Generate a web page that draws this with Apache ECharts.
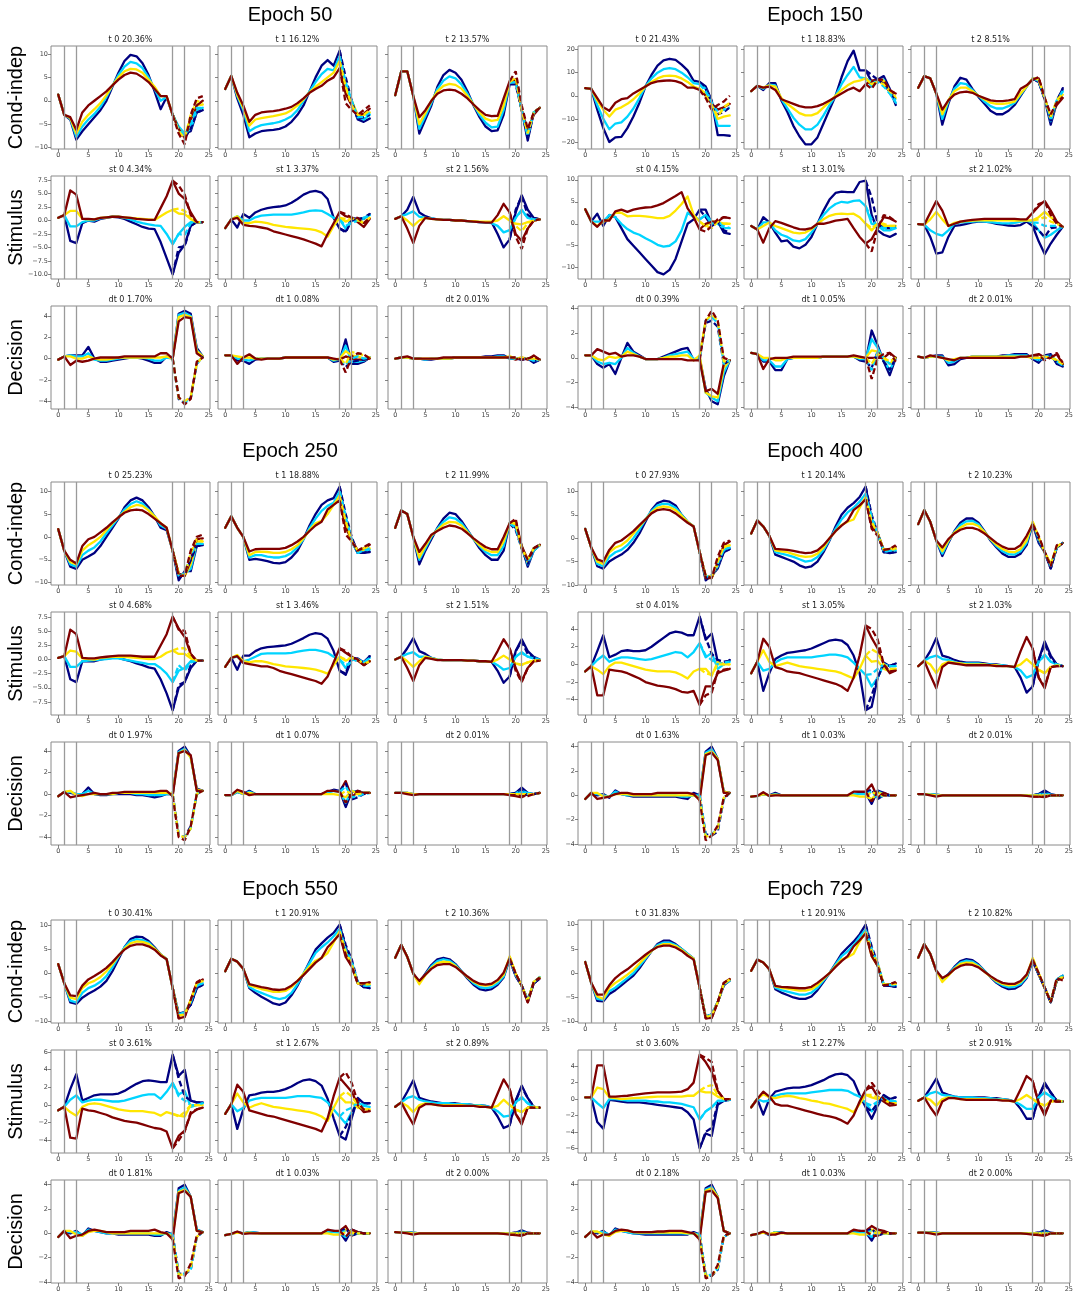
<!DOCTYPE html>
<html>
<head>
<meta charset="utf-8">
<script src="https://cdn.jsdelivr.net/npm/echarts@6/dist/echarts.min.js"></script>
<style>html,body{margin:0;padding:0;background:#fff}#chart{width:1080px;height:1297px}</style>
</head>
<body>
<div id="chart"></div>
<script>
// Task event times, drawn as grey vertical rules in every panel
const eventTimes = [1, 3, 19, 21];
const xTicks = [0, 5, 10, 15, 20, 25];
const rowNames = ['Cond-indep', 'Stimulus', 'Decision'];
const epochNames = ['Epoch 50', 'Epoch 150', 'Epoch 250', 'Epoch 400', 'Epoch 550', 'Epoch 729'];
// Condition colours (jet colormap at 0, 1/3, 2/3, 1)
const condColors = ['#000080', '#00d4ff', '#ffe600', '#800000'];

const titles_e50 = ['t 0 20.36%', 't 1 16.12%', 't 2 13.57%', 'st 0 4.34%', 'st 1 3.37%', 'st 2 1.56%', 'dt 0 1.70%', 'dt 1 0.08%', 'dt 2 0.01%'];
const titles_e150 = ['t 0 21.43%', 't 1 18.83%', 't 2 8.51%', 'st 0 4.15%', 'st 1 3.01%', 'st 2 1.02%', 'dt 0 0.39%', 'dt 1 0.05%', 'dt 2 0.01%'];
const titles_e250 = ['t 0 25.23%', 't 1 18.88%', 't 2 11.99%', 'st 0 4.68%', 'st 1 3.46%', 'st 2 1.51%', 'dt 0 1.97%', 'dt 1 0.07%', 'dt 2 0.01%'];
const titles_e400 = ['t 0 27.93%', 't 1 20.14%', 't 2 10.23%', 'st 0 4.01%', 'st 1 3.05%', 'st 2 1.03%', 'dt 0 1.63%', 'dt 1 0.03%', 'dt 2 0.01%'];
const titles_e550 = ['t 0 30.41%', 't 1 20.91%', 't 2 10.36%', 'st 0 3.61%', 'st 1 2.67%', 'st 2 0.89%', 'dt 0 1.81%', 'dt 1 0.03%', 'dt 2 0.00%'];
const titles_e729 = ['t 0 31.83%', 't 1 20.91%', 't 2 10.82%', 'st 0 3.60%', 'st 1 2.27%', 'st 2 0.91%', 'dt 0 2.18%', 'dt 1 0.03%', 'dt 2 0.00%'];

// y tick values per row (Cond-indep, Stimulus, Decision)
const yTicks_e50 = [[-10, -5, 0, 5, 10], [-10, -7.5, -5, -2.5, 0, 2.5, 5, 7.5], [-4, -2, 0, 2, 4]];
const yTicks_e150 = [[-20, -10, 0, 10, 20], [-10, -5, 0, 5, 10], [-4, -2, 0, 2, 4]];
const yTicks_e250 = [[-10, -5, 0, 5, 10], [-7.5, -5, -2.5, 0, 2.5, 5, 7.5], [-4, -2, 0, 2, 4]];
const yTicks_e400 = [[-10, -5, 0, 5, 10], [-4, -2, 0, 2, 4], [-4, -2, 0, 2, 4]];
const yTicks_e550 = [[-10, -5, 0, 5, 10], [-4, -2, 0, 2, 4, 6], [-4, -2, 0, 2, 4]];
const yTicks_e729 = [[-10, -5, 0, 5, 10], [-6, -4, -2, 0, 2, 4, 6], [-4, -2, 0, 2, 4]];

// Each panel: four conditions (navy, cyan, yellow, red), values at t = 0..24.
// *_d: the alternative-choice traces (dashed), values at t = 19..24.

// ---------- Epoch 50 ----------
const e50_t0 = [
  [1.3,-3,-4,-8.3,-6.5,-5,-3.5,-2,0,3,6,8.5,9.8,9.5,8,5.5,2,-1.8,0.8,-3,-6,-7,-6.5,-2.5,-2],
  [1.3,-3,-3.8,-7.7,-5.5,-4,-2.8,-1.3,0.8,3.2,5.5,7.3,8.3,8,7,5,2.5,0,0.8,-3,-5.5,-7,-6,-2,-1.5],
  [1.3,-3,-3.7,-7,-4.5,-3,-1.8,-0.5,1.2,3.3,5,6.3,6.8,6.7,6,4.5,3,1,1,-3,-6,-7.5,-4,-1,-0.8],
  [1.3,-3,-3.5,-6.2,-2.5,-1,0,1,2,3.3,4.5,5.5,6,5.8,5,4,2.5,1,1,-3,-6,-8,-4,-1,0]];
const e50_t0_d = [[-3,-6,-8,-6,-2.5,-2],[-3,-6,-7.5,-5,-1.5,-1.5],[-3,-6.5,-8,-3,0,-0.5],[-3,-7,-9.3,-3,0.5,1]];
const e50_t1 = [
  [2.5,5.3,0.5,-3,-7.8,-7,-6.5,-6.3,-6.2,-6,-5.5,-4.5,-3,-1,2,5,7.5,8.7,7.5,10.7,3,0,-4,-4.5,-3.8],
  [2.5,5.3,1,-2,-6.5,-5.7,-5.2,-5,-4.8,-4.5,-4,-3.3,-2,0,2,4,5.7,6.8,6.5,9.5,3,0,-3.5,-4,-3],
  [2.5,5.3,1.3,-1.5,-5.3,-4,-3.7,-3.5,-3.3,-3,-2.7,-2,-1,0.3,1.8,3,4,5,6,8.5,2,0,-3,-3,-2.5],
  [2.5,5.3,1.7,-1,-4.5,-3,-2.5,-2.3,-2.2,-2,-1.7,-1.3,-0.5,0.5,1.7,2.5,3.2,4.3,5,7,1.5,-1,-3,-2.8,-1.7]];
const e50_t1_d = [[10.7,5,0,-4,-3.5,-3],[9.5,4,0,-3.5,-3.5,-2.5],[8.5,3,-1,-3,-3,-2],[7,-0.5,-2,-3,-2,-1]];
const e50_t2 = [
  [1.2,6.3,6.3,1,-7,-4,-1,3,5.5,6.6,6,4.5,2,-1,-3.5,-5.5,-6.5,-6.3,-3,3.5,4.5,-2,-8.5,-2.5,-1.5],
  [1.2,6.3,6.3,1,-6,-3.3,-0.5,2.5,4.3,5.2,4.8,3.5,1.5,-0.8,-3,-4.7,-5.7,-5.5,-2,3.8,4.5,-2,-7.5,-2.5,-1.5],
  [1.2,6.3,6.3,1,-5,-2.6,0,2,3.2,3.6,3.4,2.6,1,-0.8,-2.5,-3.8,-4.3,-4.1,-1,4,4.5,-2,-7,-2.5,-1.5],
  [1.2,6.3,6.3,1,-3.5,-2,0,1.5,2.2,2.4,2.2,1.5,0.5,-0.8,-2,-3,-3.3,-3.2,0.5,4.2,4.5,-2,-6.5,-3,-1.5]];
const e50_t2_d = [[3.5,3.5,-2,-8,-2.5,-1.5],[3.8,4,-2,-7.5,-2.5,-1.5],[4,5,-2,-7,-2.5,-1.5],[4.2,6.3,-1,-6,-2.5,-1.5]];
const e50_st0 = [
  [0.5,1,-3.8,-4.2,-0.5,0,-0.2,0.3,0.5,0.7,0.6,0.3,-0.2,-0.7,-1.2,-1.5,-1.6,-4,-7,-10,-6,-4.5,-1,-0.3,-0.3],
  [0.5,1,-1.1,-1.1,-0.3,0,0,0.4,0.6,0.7,0.7,0.5,0.2,-0.2,-0.5,-0.7,-0.9,-1,-2.5,-4.4,-2.5,-1.2,-0.3,-0.3,-0.3],
  [0.5,1,1.8,1.8,0.3,0.2,0.2,0.5,0.6,0.7,0.7,0.6,0.5,0.4,0.3,0.2,0.1,0.8,1.5,2,1.3,1.2,0.3,-0.3,-0.3],
  [0.5,1,5.6,4.8,0.3,0.3,0.2,0.5,0.6,0.7,0.7,0.6,0.5,0.3,0.2,0.1,0.1,2.3,4.5,7.4,5,4,1.5,-0.3,-0.3]];
const e50_st0_d = [[-10,-5,-4.8,-1,-0.3,-0.3],[-4.4,-2.5,-2.7,-0.5,-0.3,-0.3],[2,2.2,1.8,0.3,-0.3,-0.3],[7.4,6.5,4.8,1,-0.3,-0.3]];
const e50_st1 = [
  [-1.4,0.2,-1.3,1.2,0.5,1.5,2,2.3,2.5,2.6,2.8,3.3,4,4.8,5.3,5.5,5.2,4,0.5,-1.5,-2,0.5,0.3,0.3,1.2],
  [-1.4,0.2,0.8,0,0,0.6,0.9,1,1.1,1.1,1.1,1.1,1.3,1.5,1.8,1.9,1.8,1.2,0.5,0.2,-1.5,0,0,0.3,1],
  [-1.4,0.2,0.8,-0.5,-0.5,-0.2,-0.3,-0.5,-0.8,-1,-1.2,-1.3,-1.4,-1.5,-1.6,-1.8,-2.2,-3,-1,0.5,-0.2,0.3,0,-0.5,0.5],
  [-1.4,0.2,0.5,-0.8,-1,-1.1,-1.3,-1.5,-2,-2.3,-2.6,-2.9,-3.2,-3.5,-3.9,-4.3,-4.8,-2.5,-0.5,1.6,0.8,0.5,-0.3,-1.2,0.3]];
const e50_st1_d = [[-1.5,-2.2,0,0.3,0.5,1.2],[0.2,-1,-0.5,0,0.5,1],[0.5,0.3,0.5,0,-0.3,0.5],[1.6,1.2,0.5,0.5,-0.5,0.5]];
const e50_st2 = [
  [0.3,0.8,2,4.4,1.5,0.8,0.4,0.2,0.1,0.1,0,0,-0.1,-0.2,-0.3,-0.3,-0.3,-2.5,-5,-3.5,1.5,4.7,2,0.5,0.2],
  [0.3,0.8,1.2,1.7,0.7,0.5,0.4,0.2,0.1,0.1,0,0,-0.1,-0.2,-0.3,-0.4,-0.5,-1,-2.2,-1.8,0.5,2,0.5,0.2,0.2],
  [0.3,0.8,0,-1,0,0.5,0.3,0.2,0.1,0.1,0,0,-0.1,-0.1,-0.2,-0.2,-0.2,0,0.8,0,-0.6,-0.7,-0.3,0,0.2],
  [0.3,0.8,-1.5,-4.2,-1,0.5,0.3,0.2,0.1,0.1,0,0,-0.1,-0.2,-0.3,-0.4,-0.4,1,3.1,1.5,-2.5,-3.8,-1.5,0,0.2]];
const e50_st2_d = [[-3.5,2,4.5,1,0.5,0.2],[-1.8,0.5,1.8,0.5,0.2,0.2],[0,-1,-2,-0.5,0,0.2],[1.5,-3,-5.3,-1.5,0,0.2]];
const e50_dt0 = [
  [-0.1,0.2,0.3,0.3,0.3,1.1,0,-0.3,-0.3,-0.2,-0.1,0,0.1,0.1,0,-0.2,-0.4,-0.4,0.2,0,4.2,4.5,4.2,1,0.2],
  [-0.1,0.2,0.3,0.2,0.2,0.5,-0.1,-0.2,-0.2,-0.1,0,0.1,0.1,0.1,0.1,0,-0.2,-0.2,0.1,0,4.1,4.3,4,0.8,0.2],
  [-0.1,0.2,0.2,0,0,0.2,0,-0.1,-0.1,0,0.1,0.1,0.1,0.1,0.1,0.1,0.1,0.1,0.2,0,3.9,4.1,3.9,0.7,0.2],
  [-0.1,0.2,-0.6,-0.2,-0.3,-0.2,0,0.1,0.1,0.1,0.1,0.2,0.2,0.2,0.2,0.2,0.2,0.5,0.5,0,3.5,3.9,3.8,0.5,0.1]];
const e50_dt0_d = [[0,-3.8,-4.2,-3.7,-0.5,0.2],[0,-3.7,-4.1,-3.7,-0.5,0.2],[0,-3.7,-4,-3.6,-0.5,0.2],[0,-3.6,-4.3,-3.8,-0.3,0.1]];
const e50_dt1 = [
  [0.3,0.3,-0.2,-0.2,-0.5,-0.1,0,0,0,0,0.1,0.1,0.1,0.1,0.1,0.1,0.1,0.1,-0.3,-0.2,1.8,-0.5,-0.5,-0.3,0.1],
  [0.3,0.3,0,-0.1,-0.2,0,0,0,0,0,0.1,0.1,0.1,0.1,0.1,0.1,0.1,0.1,-0.2,-0.1,1.2,-0.3,-0.3,-0.2,0.1],
  [0.3,0.3,0.2,0.1,0.1,0,0,0,0,0,0.1,0.1,0.1,0.1,0.1,0.1,0.1,0.1,-0.1,0,0.7,0.3,0.2,0,0.1],
  [0.3,0.3,-0.5,0.1,0.4,0,-0.1,0,0,0,0.1,0.1,0.1,0.1,0.1,0.1,0.1,0.1,0,-0.1,0.2,0,-0.1,-0.1,0]];
const e50_dt1_d = [[-0.2,-0.8,-0.3,-0.2,-0.1,0.1],[-0.1,-0.6,0,0.2,0,0.1],[0,-0.5,0.6,0.5,0.3,0.1],[-0.1,-1.3,0.2,0.5,0.4,0]];
const e50_dt2 = [
  [0,0.1,0.1,0,0,-0.1,-0.1,0,0,0,0.1,0.1,0.1,0.1,0.1,0.2,0.2,0.3,0.3,0,0,-0.1,0,-0.4,-0.1],
  [0,0.1,0.1,0,0,-0.1,0,0,0,0,0.1,0.1,0.1,0.1,0.1,0.1,0.1,0.2,0.2,0,0,0,0,-0.2,-0.1],
  [0,0.1,0.1,0,0,0,0,0,0,0,0.1,0.1,0.1,0.1,0.1,0.1,0.1,0.1,0.1,0.2,0,0,0,0,-0.1],
  [0,0.1,0.2,0,0,0,0,0,0.1,0.1,0.1,0.1,0.1,0.1,0.1,0.1,0.1,0.1,0.1,0.1,-0.1,0.1,-0.1,0.3,-0.1]];
const e50_dt2_d = [[0,0.1,-0.1,0,-0.3,-0.1],[0,0,0,0,-0.2,-0.1],[0.2,0,0.1,0,0,-0.1],[0.1,0.1,-0.1,0,0.2,-0.1]];

// ---------- Epoch 150 ----------
const e150_t0 = [
  [3.3,3,-6,-14,-20,-18,-17.8,-14,-9,-3,4,9,13,15.3,16,15.5,13.5,11,6.5,6,4,-2,-17,-17,-17.3],
  [3.3,3,-4,-10,-14.5,-12,-11.5,-9,-5.5,-1,4,7.5,10,11.5,12,11.5,10,8,5.5,5,3,-3,-13,-13,-13],
  [3.3,3,-2,-6,-9,-6,-5,-3.5,-1.5,1,4,6,7.5,8.5,8.7,8.5,7.5,6,4,3,1,-3.5,-10,-9,-8.5],
  [3.3,3,-1,-5,-6.5,-3,-1.5,-1,1,2.5,4,5.5,6.2,6.5,6.7,6.3,5.5,3.5,3.5,2.5,0,-3.5,-6,-5,-3.5]];
const e150_t0_d = [[6,3,-3,-8,-7,-5],[5,2,-3,-7,-6,-5],[3,0,-4,-9,-5,-3],[2.5,-1,-6,-4,-2.5,0]];
const e150_t1 = [
  [2,4.3,2.5,5.5,5.5,-2,-7,-13,-17.5,-21,-21,-18,-12,-6,0,8,15,19.5,11,11,6,7,8.5,3,-4],
  [2,4.3,3,4.8,4.5,-1.5,-5.5,-9.5,-12.5,-14.5,-14.5,-12.5,-8.5,-4,0,5,9,12.5,8,7.5,4,6,7,1,-3],
  [2,4.3,3.5,4.5,4,-1,-3.5,-5.5,-7.5,-8.5,-8.5,-7.5,-5,-2.5,0,2.5,4.5,6,6.5,7.5,5,6.5,6.5,2,-1],
  [2,4.3,3.5,4,2.5,-1.5,-2.5,-3.5,-4.5,-5,-5,-4.5,-3.5,-2,-0.5,1,2.5,3.5,2,5,6.5,7,5,2,1]];
const e150_t1_d = [[11,9,7,5,2,-2],[7.5,6,6,4,1,-2],[7.5,5,6,5,2,-0.5],[5,3,7,7,2.5,1]];
const e150_t2 = [
  [3.5,8.5,7.5,1,-12.5,-3.5,4,7.8,7,3,-0.5,-3.5,-6.5,-8,-8,-6.5,-4,0,4,7.5,6,-1.5,-12.5,-3,3.3],
  [3.5,8.5,7.5,1,-10,-2.5,3,5.5,5,2.5,0,-2.5,-4.5,-5.5,-5.5,-4.5,-3,0.5,4,7.5,6.5,-1,-11,-3,2],
  [3.5,8.5,7.5,1,-8,-2,2,3.5,3.5,2,0,-1.5,-3,-3.5,-3.5,-3.2,-2.5,1,4,7.5,7,-1,-10,-3,0.5],
  [3.5,8.5,7.5,1,-6,-2,0.5,1.5,1.8,1.3,0,-1,-2,-2.3,-2.3,-2,-1.5,3,4.5,7,7.5,-1,-9,-4,-1]];
const e150_t2_d = [[7.5,6,-1.5,-11,-2,3],[7.5,6.5,-1,-10,-2,2],[7.5,7,-1,-9,-2,1],[7,8,-1,-8,-3,-0.5]];
const e150_st0 = [
  [3.3,0.5,2.3,-0.5,2,1.5,-1,-3.5,-5,-6.5,-8,-9.5,-11,-11.5,-10.5,-8,-4,0,1,3.2,3.2,0,0.5,-2,-2.3],
  [3.3,0.5,0.5,0.5,2,1.5,0,-1.2,-2,-2.5,-3.3,-4,-4.8,-5.2,-5,-4,-1.5,2.5,1.5,1,2,0.5,0,-1,-1],
  [3.3,0.5,-0.5,0.5,1,2.5,2.5,1.7,1.8,1.8,1.7,1.5,1.3,1.3,1.8,3,4.5,6.2,2,0.5,-0.5,0.5,0.5,0,0],
  [3.3,0.5,-0.7,0.8,0.7,2.8,3.2,2.7,3.2,3.5,3.7,3.8,4.2,4.7,5.5,6.3,7.2,3.5,1.5,-1.3,0,0.5,0.5,1.5,1.3]];
const e150_st0_d = [[3.2,1.5,-0.5,0.5,-1.5,-2],[1,2,0,0.5,-0.5,-1],[0.5,-0.5,-1,0.5,0,0],[-1.3,-1.8,-0.5,1,1.5,1.3]];
const e150_st1 = [
  [-0.5,-1.3,1.5,0.3,-2,-4,-3.8,-5.2,-5.6,-4.8,-3,0,3,5.5,7,7.3,7.2,7.2,9.5,9.8,2,-1.5,-2.5,-3,-2.3],
  [-0.5,-1.3,0.3,0.3,-1.5,-2.5,-3,-3.8,-4,-3.5,-2,0,2,3.5,4.5,5,4.8,5.2,5.3,4,0,-0.5,-1.5,-1.5,-1],
  [-0.5,-1.3,-0.5,0.3,-0.5,-1,-1.5,-2,-2.2,-2,-1.2,0,1,1.8,2.2,2.3,2.2,2.3,1.5,0,-1.5,0,-0.5,-0.5,-0.5],
  [-0.5,-1.3,-4.3,-1,0.6,0.2,-0.3,-0.8,-1.2,-1.3,-1,0,0,0.3,0.7,0.9,1.1,-1,-3,-4.5,-3.5,-1,1.5,1.2,0.5]];
const e150_st1_d = [[9.8,6,0,-1,-1,-0.5],[4,1,-0.5,-1,-1,-0.5],[0,-1,0,0,-0.5,-0.5],[-4.5,-6.3,-1,2,1.5,0.5]];
const e150_st2 = [
  [-0.1,-0.2,-3,-6.8,-6.5,-3,-0.5,-0.3,0,0.3,0.5,0.5,0.3,0,-0.2,-0.4,-0.5,-0.3,0.5,-0.5,-4,-6.9,-4.5,-2.5,-0.7],
  [-0.1,-0.2,-1.5,-2.3,-2.7,-1.5,0,0.3,0.4,0.5,0.6,0.5,0.4,0.2,0.1,0.1,0.2,0.5,0.7,0.3,-1.5,-3.2,-2.5,-1.5,-0.7],
  [-0.1,-0.2,1,2.7,1,-0.5,0.2,0.5,0.6,0.7,0.8,0.8,0.8,0.8,0.8,0.8,0.7,0.7,0.7,0.8,1.5,2.7,1.5,0.3,-0.7],
  [-0.1,-0.2,2.5,5.2,3,-0.5,0,0.5,0.7,0.9,1,1.1,1.1,1.1,1.1,1.1,1.1,1,1,2.5,4,5.2,3,0.5,-0.7]];
const e150_st2_d = [[-0.5,-1.5,-3,-1,-0.8,-0.7],[0.3,0.2,-0.5,-0.5,-0.5,-0.7],[0.8,1,1.5,0.5,0,-0.7],[2.5,4.5,5,2,0,-0.7]];
const e150_dt0 = [
  [0.2,0.2,-0.5,-0.8,-0.5,-1.3,0,1.2,0.5,0.2,-0.1,-0.1,-0.1,0.1,0.3,0.5,0.7,0.8,-0.2,0,-2.5,-3.5,-3.75,-1.5,-0.2],
  [0.2,0.2,-0.3,-0.5,-0.4,-0.5,0,0.8,0.4,0.1,-0.1,-0.1,-0.1,0,0.2,0.3,0.4,0.5,-0.1,0,-2.8,-3.2,-3.5,-1.2,-0.2],
  [0.2,0.2,-0.1,-0.2,0.1,0,0.1,0.5,0.3,0.1,-0.1,-0.1,-0.1,0,0.1,0.1,0.2,0.2,-0.2,0.2,-2.8,-3.1,-3.2,-0.8,-0.2],
  [0.2,0.2,0.7,0.5,0.3,0.4,0.1,0.2,0.2,0.1,-0.1,-0.1,-0.1,-0.1,-0.1,-0.1,-0.1,-0.2,-0.2,-0.2,-2.7,-2.5,-2.9,-0.5,-0.2]];
const e150_dt0_d = [[0,2.8,3,2.5,-0.5,-0.2],[0,3,3.3,2.8,-0.5,-0.2],[0.2,3,3.5,3,-0.3,-0.2],[-0.2,3,3.8,3,0,-0.2]];
const e150_dt1 = [
  [0.4,0.3,-0.3,-0.3,-1,-1,-0.1,0,0,0,0,0,0.1,0.1,0.1,0.1,0.1,0.1,-0.2,-0.3,2.2,1,-0.3,-1.4,0],
  [0.4,0.3,-0.2,-0.2,-0.7,-0.7,-0.1,0,0,0,0,0,0.1,0.1,0.1,0.1,0.1,0.1,-0.1,-0.1,1.5,0.8,-0.2,-1,0],
  [0.4,0.3,0,0,-0.2,-0.2,0,0,0,0,0,0,0.1,0.1,0.1,0.1,0.1,0.1,0,0,0.6,0.5,0,-0.5,0],
  [0.4,0.3,-0.9,-0.1,0,0,0,0.1,0.1,0.1,0.1,0.1,0.1,0.1,0.1,0.1,0.1,0.2,0.1,0,0,0,0,0.4,0]];
const e150_dt1_d = [[-0.3,-0.8,0.5,-0.3,-1,0],[-0.1,-1,0.5,0,-0.5,0],[0,-0.5,0.3,0,-0.3,0],[0,-1.7,0,0.3,0.4,-0.3]];
const e150_dt2 = [
  [0.1,0,0.1,0.2,0.2,-0.6,-0.5,-0.1,0,0.1,0.1,0.1,0.1,0.1,0.2,0.2,0.3,0.3,0.3,-0.1,-0.4,0.2,0.3,-0.5,-0.7],
  [0.1,0,0.1,0.1,0.1,-0.4,-0.3,0,0,0.1,0.1,0.1,0.1,0.1,0.1,0.2,0.2,0.2,0.2,0,-0.2,0.1,0.2,-0.3,-0.6],
  [0.1,0,0.1,0.1,0,-0.2,-0.1,0,0,0.1,0.1,0.1,0.1,0.1,0.1,0.1,0.1,0.1,0.1,0,0,0,0.1,-0.2,-0.5],
  [0.1,0,0.2,0.1,0,-0.1,-0.2,0,0,0,0,0,0,0,0,0,0,0.1,0.1,0.2,0.3,0,0,0.3,-0.5]];
const e150_dt2_d = [[-0.1,-0.3,0,0.2,-0.4,-0.7],[0,-0.2,0,0.1,-0.3,-0.6],[0,0,0.1,0,-0.2,-0.5],[0.2,0.2,-0.2,0,0.4,-0.4]];

// ---------- Epoch 250 ----------
const e250_t0 = [
  [1.7,-3,-6.5,-7,-5,-4.3,-3.5,-2,0,2,4,6.5,8,8.6,8,6.5,4.5,2,1.5,-3,-9.5,-7.5,-7.5,-2,-1.8],
  [1.7,-3,-6,-6.5,-4,-3,-2.3,-1,0.8,2.5,4.2,6,7.2,7.8,7.3,6,4.5,2.5,1.8,-3,-8.5,-8,-7,-1.5,-1.5],
  [1.7,-3,-5.5,-6,-3,-1.8,-1,0,1.5,3,4.3,5.5,6.5,7,6.8,5.8,4.5,3,2,-3,-8,-8.5,-6,-1,-1],
  [1.7,-3,-5,-5.8,-2,-0.5,0,1,2,3.2,4.3,5.3,5.8,6,5.8,5,4,3,2,-3,-8,-8.5,-5,-0.5,-0.3]];
const e250_t0_d = [[-3,-9,-8,-5,-2,-1.8],[-3,-8.5,-8,-4,-1.5,-1.5],[-3,-8,-8.5,-3.5,-0.5,-1],[-3,-8.5,-8.5,-3,0,0.5]];
const e250_t1 = [
  [2,4.5,2,0,-5,-4.8,-5,-5.3,-5.7,-5.8,-5.5,-4.5,-3,-0.5,2.5,5,7,8,8.5,11,3.5,-1,-3.5,-3.5,-3.3],
  [2,4.5,2,0,-4.5,-4,-4,-4.3,-4.5,-4.5,-4.2,-3.5,-2.3,-0.5,2,4,5.7,6.8,7.5,10,3,-1,-3.5,-3,-2.8],
  [2,4.5,2,0,-4,-3.3,-3.2,-3.3,-3.5,-3.5,-3.3,-2.7,-1.8,-0.3,1.5,3,3.5,5,7,9,2.5,-1,-3,-2.8,-2.5],
  [2,4.5,2,0,-3.2,-2.7,-2.6,-2.6,-2.6,-2.6,-2.4,-1.8,-1,0,1.3,2.5,3.3,6,7,8,2,-0.5,-3,-2.5,-1.7]];
const e250_t1_d = [[11,5,0,-3.5,-3.5,-3],[10,4.5,-0.5,-3.5,-3,-2.5],[9,3.5,-1,-3,-2.5,-2],[8,0.5,-1,-3,-2.2,-1.5]];
const e250_t2 = [
  [2,5.8,5,0,-6,-3,-0.5,2,4,5.3,5,3.5,1.5,-0.5,-2.5,-4,-5,-5,-3,3,2,-2,-6.5,-3,-1.8],
  [2,5.8,5,0,-5,-2.5,0,1.8,3.3,4.3,4,3,1.3,-0.5,-2,-3.3,-4,-4,-2,3,2.5,-2,-6,-3,-1.8],
  [2,5.8,5,0,-4.5,-2,0.3,1.5,2.7,3.3,3.2,2.5,1,-0.4,-1.8,-2.8,-3.3,-3.3,-1,3,2.8,-2,-5.5,-2.5,-1.8],
  [2,5.8,5,0,-3.3,-1.5,0.5,1.3,2,2.5,2.3,1.8,0.8,-0.3,-1.3,-2.2,-2.7,-2.7,0,3,3.5,-2,-5,-2.5,-1.7]];
const e250_t2_d = [[3,1.5,-2.5,-6,-2.5,-1.8],[3,2,-2.5,-5.5,-2.5,-1.8],[3,3,-2.5,-5,-2.5,-1.8],[3,4,-2.5,-5,-2.5,-1.7]];
const e250_st0 = [
  [0.3,0.6,-3.5,-4,-0.3,-0.3,-0.3,0,0.2,0.3,0.3,0,-0.3,-0.7,-1,-1.4,-1.6,-3.5,-6,-9,-5,-4,-1.5,-0.2,-0.2],
  [0.3,0.6,-1.3,-1.3,-0.3,-0.2,-0.1,0,0.1,0.2,0.2,0,-0.2,-0.4,-0.6,-0.8,-0.8,-1.5,-2.5,-4,-2,-1.5,-0.3,-0.2,-0.2],
  [0.3,0.6,1.6,1.4,0.2,0.1,0,0.3,0.4,0.5,0.5,0.5,0.4,0.3,0.2,0.1,0.1,0.5,1.2,1.6,1,1,0.2,-0.2,-0.2],
  [0.3,0.6,5.3,4.5,0.3,0.2,0.2,0.4,0.5,0.6,0.7,0.7,0.7,0.6,0.5,0.5,0.5,2.5,4.5,7.6,5.5,4,1,-0.2,-0.2]];
const e250_st0_d = [[-9,-4.5,-4,-1,-0.2,-0.2],[-4,-1,-2,-0.5,-0.2,-0.2],[1.6,2,2,0.5,-0.2,-0.2],[7.6,5.3,5.1,1,-0.2,-0.2]];
const e250_st1 = [
  [-1.3,0.3,-1.8,0.7,0.7,1.5,2,2.2,2.3,2.4,2.5,2.8,3.3,3.8,4.4,4.7,4.5,3.7,1.5,-2,-2.7,0,0.2,-0.5,0.6],
  [-1.3,0.3,0.5,-0.3,0,0.5,1,1.1,1.1,1.1,1.1,1.2,1.4,1.6,1.7,1.7,1.5,1.2,0.5,0,-1.5,0,0,-0.5,0.3],
  [-1.3,0.3,0.8,-0.3,-0.5,-0.3,-0.3,-0.5,-0.8,-1,-1.2,-1.3,-1.4,-1.5,-1.6,-1.8,-2.1,-2.5,-1,0.5,-0.2,0.3,0,-0.8,-0.3],
  [-1.3,0.3,0.6,-0.6,-0.8,-1,-1.2,-1.2,-1.5,-2,-2.3,-2.6,-2.9,-3.2,-3.5,-3.8,-4.3,-3,-0.5,2,1.2,0.5,-0.2,-1,-0.3]];
const e250_st1_d = [[-2,-2.5,0.5,0,-0.5,0.6],[0,-1,-0.5,0,-0.5,0.3],[0.5,0,0.3,0,-0.8,-0.3],[2,1.5,0.5,0,-1,-0.3]];
const e250_st2 = [
  [0,0.5,2,3.8,1.5,1,0.3,0,-0.1,-0.1,-0.1,-0.1,-0.2,-0.2,-0.3,-0.3,-0.4,-2,-4.1,-3,1.5,3.6,1.5,0.5,0],
  [0,0.5,1,1.3,0.5,0.5,0.3,0,-0.1,-0.1,-0.1,-0.1,-0.2,-0.2,-0.3,-0.3,-0.4,-1,-1.8,-1.5,0.5,1.3,0.5,0.3,0],
  [0,0.5,-0.3,-1.3,-0.3,0.5,0.2,0,-0.1,-0.1,-0.1,-0.1,-0.2,-0.2,-0.3,-0.3,-0.4,0,0.7,0,-0.7,-0.9,-0.5,-0.2,-0.1],
  [0,0.5,-1.5,-3.8,-1,0.3,0.1,-0.1,-0.1,-0.1,-0.1,-0.1,-0.2,-0.2,-0.3,-0.3,-0.4,1.5,3.6,2,-1.5,-3.8,-1.5,-0.3,-0.2]];
const e250_st2_d = [[-3,1.5,3.2,1,0.3,0],[-1.5,0.5,1.2,0.5,0.2,0],[0,-0.7,-1,-0.5,-0.2,-0.1],[2,-2,-4,-1.5,-0.3,-0.2]];
const e250_dt0 = [
  [-0.2,0.2,0.1,0,0,0.6,0,-0.1,-0.1,0,0,0,0,-0.1,-0.1,-0.2,-0.3,-0.2,0,0,4,4.4,3.5,0.5,0.3],
  [-0.2,0.2,0.2,0,0,0.3,0,0,0,0,0.1,0.1,0.1,0,0,-0.1,-0.1,-0.1,0,0,3.9,4.2,3.4,0.4,0.3],
  [-0.2,0.2,0.3,-0.1,-0.2,0,0,0,0,0,0.1,0.1,0.1,0.1,0.1,0.1,0.1,0.1,0.1,0,3.8,4.1,3.4,0.4,0.3],
  [-0.2,0.2,-0.3,-0.2,-0.1,0,0.1,0,0,0.1,0.1,0.2,0.2,0.2,0.2,0.2,0.2,0.3,0.3,-0.2,3.8,4,3.6,0.3,0.3]];
const e250_dt0_d = [[0,-3.8,-4,-3,0,0.3],[0,-3.8,-4,-3.2,0,0.3],[0,-3.9,-4,-3.2,0,0.3],[-0.2,-4,-4.3,-3,0,0.3]];
const e250_dt1 = [
  [-0.1,-0.1,0.2,0,0.3,0,0,0,0,0,0,0,0,0,0,0,0,0.2,0.4,0.3,-1.2,0.2,0.3,0.1,0.1],
  [-0.1,-0.1,0.2,0,0.2,0,0,0,0,0,0,0,0,0,0,0,0,0.1,0.3,0.2,-0.8,0.3,0.2,0.1,0.1],
  [-0.1,-0.1,0.3,0,0.1,0,0,0,0,0,0,0,0,0,0,0,0,0,0,-0.1,-0.3,0.3,0.1,0.1,0.1],
  [-0.1,-0.1,0.4,0.2,-0.1,0,0,0,0,0,0,0,0,0,0,0,0,0.3,0.3,0.2,1.2,-0.3,0.2,0.1,0.1]];
const e250_dt1_d = [[0.3,1,-0.5,-0.3,0,0.1],[0.2,0.7,-0.3,-0.2,0,0.1],[-0.1,0.3,0,0,0.1,0.1],[0.2,-0.8,0,0.3,0.1,0.1]];
const e250_dt2 = [
  [0.1,0.1,0.1,0,0,0,0,0,0,0,0,0,0,0,0,0,0,0,0,0,0.1,0.6,0.1,0,0.1],
  [0.1,0.1,0.1,0,0,0,0,0,0,0,0,0,0,0,0,0,0,0,0,0,0.1,0.3,0.1,0,0.1],
  [0.1,0.1,0.1,0,0,0,0,0,0,0,0,0,0,0,0,0,0,0,0,0,0,0,0,0,0.1],
  [0.1,0.1,0,-0.1,0,0,0,0,0,0,0,0,0,0,0,0,0,0,0,-0.1,-0.2,-0.3,0,0,0.1]];
const e250_dt2_d = [[0,0.1,0.3,-0.1,0,0.1],[0,0,0.2,0,0,0.1],[0,0,0,0,0,0.1],[-0.1,-0.1,-0.2,-0.2,0,0.1]];

// ---------- Epoch 400 ----------
const e400_t0 = [
  [2,-2,-6,-6.5,-5,-4.2,-3.5,-2.5,-1,1,3.5,6,7.5,8,7.8,7,5,3.5,2.5,-3,-9,-8,-6.5,-3,-2.3],
  [2,-2,-5.5,-6,-4,-3,-2.5,-1.5,0,1.8,4,5.8,7,7.4,7.2,6.5,5,3.5,2.5,-3,-8.5,-8.3,-6,-2.5,-2],
  [2,-2,-5,-5.5,-3,-2,-1.5,-0.5,1,2.5,4,5.5,6.5,6.8,6.6,6,4.8,3.5,2.5,-3,-8.3,-8.5,-5.5,-2,-1.5],
  [2,-2,-4.5,-5,-2.5,-1,-0.5,0.5,1.5,2.8,4,5.3,6,6.2,6,5.3,4.3,3.3,2.5,-3,-8.5,-8.5,-5,-1.5,-0.7]];
const e400_t0_d = [[-3,-8.5,-8,-6,-3,-2.3],[-3,-8.3,-8,-5.5,-2.5,-2],[-3,-8,-8.2,-5,-1.8,-1.5],[-3,-8,-8.5,-4,-1,-0.5]];
const e400_t1 = [
  [1,3.8,2.5,0.5,-3.5,-4,-4.5,-5,-5.8,-6.3,-6,-5,-3,-0.5,2.5,5,6.5,7.5,8.8,11,4,1,-3,-3.2,-3],
  [1,3.8,2.5,0.5,-3,-3.3,-3.6,-4,-4.5,-5,-4.8,-4,-2.5,-0.3,2,4,5.5,6.5,7.8,9.5,3.5,1,-2.8,-2.8,-2.6],
  [1,3.8,2.5,0.5,-2.6,-2.8,-3,-3.4,-3.8,-4,-3.9,-3.3,-2,0,1.5,2.8,3.5,4,6.5,8.8,3,1,-2.5,-2.5,-2.3],
  [1,3.8,2.5,0.5,-2.3,-2.4,-2.5,-2.7,-3,-3.2,-3.1,-2.6,-1.5,0,1.5,2.7,3.7,6,7,8.3,2.5,1,-2.5,-2.3,-1.8]];
const e400_t1_d = [[11,5,1,-3,-3,-3],[9.5,4.5,1,-2.8,-2.7,-2.5],[8.8,3.5,1,-2.5,-2.3,-2],[8.3,2,0.5,-2.5,-2.3,-1.5]];
const e400_t2 = [
  [3,6,3.5,-0.5,-3.8,-1,1.5,3.3,4.2,4.2,3.3,1.5,-0.5,-2,-3.3,-4,-4,-3.3,-1.5,3,-1,-3,-6.5,-2,-1],
  [3,6,3.5,-0.5,-3.3,-0.7,1.3,2.8,3.6,3.7,3,1.3,-0.3,-1.7,-2.8,-3.4,-3.5,-2.8,-1,3.3,-0.5,-3,-6,-2,-1],
  [3,6,3.5,-0.5,-2.8,-0.5,1.2,2.3,3,3.1,2.6,1.3,-0.2,-1.4,-2.3,-2.9,-3,-2.3,-0.5,3.5,0,-3,-5.5,-2,-1],
  [3,6,3.5,-0.5,-2,-0.2,1,1.8,2.2,2.2,1.8,1,0,-1,-1.8,-2.3,-2.3,-1.5,0.5,3,0,-3,-5.8,-2,-1]];
const e400_t2_d = [[3,-0.5,-3,-6.5,-2,-1],[3.3,0,-3,-6,-2,-1],[3.5,0.3,-3,-5.5,-1.8,-1],[3,0.5,-3,-6,-1.5,-1.2]];
const e400_st0 = [
  [-0.8,-0.2,1.5,3.3,0.8,1.1,1.5,1.6,1.5,1.5,1.6,2,2.5,3,3.5,3.7,3.6,3.3,3.3,5.4,2.8,3.5,0.3,0,0.5],
  [-0.8,-0.2,0.5,1,0.3,0.6,0.8,0.8,0.7,0.6,0.5,0.6,0.8,1,1.2,1.4,1.3,0.8,1.4,2.4,0.8,1.3,-0.5,0,0.3],
  [-0.8,-0.2,-0.6,-1.1,-0.2,0.2,0.2,0,-0.2,-0.4,-0.6,-0.7,-0.8,-0.8,-0.8,-0.9,-1.2,-1.6,-0.8,-0.5,-0.5,-1.3,0.3,0,0],
  [-0.8,-0.2,-3.5,-3.5,-0.6,-0.7,-0.8,-1,-1.3,-1.6,-2,-2.2,-2.4,-2.5,-2.6,-2.8,-3.1,-3.2,-3,-4.6,-2.5,-2.5,-1,-0.7,-0.5]];
const e400_st0_d = [[5.4,3,1.2,0.5,0.3,0.4],[2.4,1,0.5,0,0.2,0.3],[-0.5,-1,-1.2,0,0,0],[-4.6,-3.5,-3.2,-0.8,-0.6,-0.5]];
const e400_st1 = [
  [-1,0.3,-3,-1,0.6,1,1.3,1.4,1.5,1.6,1.8,2.1,2.4,2.7,2.8,2.7,2.2,1,-1,-5.2,-4.8,-1.5,0.2,-0.2,0.1],
  [-1,0.3,-0.7,-0.5,0.2,0.6,0.8,0.8,0.8,0.8,0.8,0.9,1,1.1,1.1,1,0.8,0.2,-0.5,-1.2,-2.5,-1.5,0,-0.2,-0.2],
  [-1,0.3,1.6,0.3,-0.2,0,0.2,0,-0.2,-0.3,-0.4,-0.5,-0.6,-0.7,-0.8,-1,-1.3,-1.6,-0.5,1,0.3,0.4,-0.5,-0.8,-0.5],
  [-1,0.3,2.9,2,-0.3,-0.5,-0.8,-0.9,-1,-1.2,-1.4,-1.6,-1.8,-2,-2.2,-2.5,-3,-1.5,1,4.4,3,1.8,0,-1,-0.7]];
const e400_st1_d = [[-5.2,-3.5,-1.5,0,-0.2,0.1],[-1.2,-1.1,-0.5,0,-0.2,-0.2],[1,1.7,1.3,0,-0.5,-0.5],[4.4,4,2.8,0,-0.8,-0.7]];
const e400_st2 = [
  [-0.2,0.4,1.5,3,1,0.8,0.5,0.3,0.2,0.2,0.2,0.1,0,0,-0.1,-0.2,-0.3,-1.5,-3.2,-2.5,0.5,2.6,1,0,-0.2],
  [-0.2,0.4,0.8,1,0.6,0.5,0.3,0.1,0.1,0.1,0.1,0,0,-0.1,-0.1,-0.2,-0.3,-0.7,-1.5,-1.2,0.3,1.1,0.3,0,-0.2],
  [-0.2,0.4,0,-1,0,0.3,0.2,0.1,0,0,0,0,-0.1,-0.1,-0.2,-0.2,-0.3,0,0.6,0,-0.6,-1,-0.3,-0.1,-0.2],
  [-0.2,0.4,-1.2,-2.7,-0.3,0.2,0.1,0,-0.1,-0.1,-0.1,-0.1,-0.1,-0.2,-0.2,-0.2,-0.3,1.5,3.1,1.8,-1.5,-2.7,-0.3,-0.2,-0.2]];
const e400_st2_d = [[-2.5,0.5,2.3,0.8,0,-0.2],[-1.2,0.3,1,0.3,0,-0.2],[0,-0.6,-1,-0.3,-0.1,-0.2],[1.8,-1.5,-2.5,-0.3,-0.2,-0.2]];
const e400_dt0 = [
  [-0.3,0.2,0,0.1,-0.2,0.4,0.1,0,-0.1,-0.1,-0.1,-0.1,-0.1,-0.1,-0.1,-0.1,-0.2,-0.3,0.2,0,3.6,4,3,0.3,0.2],
  [-0.3,0.2,0.1,0,-0.1,0.3,0.1,0,0,0,0,0,0,0,0,0,-0.1,-0.1,0,0,3.5,3.8,3,0.3,0.2],
  [-0.3,0.2,0.2,-0.1,-0.1,0.1,0.1,0.1,0,0,0,0,0,0,0,0,0,0,0,-0.2,3.4,3.6,3,0.3,0.2],
  [-0.3,0.2,-0.3,-0.2,-0.1,0.1,0.2,0.2,0.1,0.1,0.1,0.1,0.2,0.2,0.2,0.2,0.2,0.2,0.1,-0.4,3.3,3.5,2.9,0.2,0.2]];
const e400_dt0_d = [[0,-3.2,-3.3,-3,-0.3,0.2],[0,-3.3,-3.2,-2.7,-0.3,0.2],[-0.2,-3.4,-3.3,-2.7,-0.2,0.2],[-0.4,-3.7,-3.3,-2.5,-0.2,0.2]];
const e400_dt1 = [
  [-0.1,-0.05,0.1,0,0.2,0,0,0,0,0,0,0,0,0,0,0,0,0.1,0.2,0.2,-0.7,0.4,0.2,0,0],
  [-0.1,-0.05,0.1,0,0.1,0,0,0,0,0,0,0,0,0,0,0,0,0.1,0.1,0.1,-0.4,0.3,0.1,0,0],
  [-0.1,-0.05,0.1,0,0.05,0,0,0,0,0,0,0,0,0,0,0,0,0,-0.1,-0.1,-0.3,0.2,0.1,0,0],
  [-0.1,-0.05,0.25,-0.05,0,0,0,0,0,0,0,0,0,0,0,0,0,0.3,0.3,0.3,0.9,-0.2,0.2,0,0]];
const e400_dt1_d = [[0.2,0.5,-0.3,0,0,0],[0.1,0.3,-0.2,0,0,0],[-0.1,0.3,0,0,0,0],[0.3,-0.5,0.3,0,0,0]];
const e400_dt2 = [
  [0.1,0.1,0.1,0.05,0,0,0,0,0,0,0,0,0,0,0,0,0,0,0,0,0.1,0.4,0.1,0,0],
  [0.1,0.1,0.1,0.05,0,0,0,0,0,0,0,0,0,0,0,0,0,0,0,0,0.05,0.2,0.05,0,0],
  [0.1,0.1,0.05,0,0,0,0,0,0,0,0,0,0,0,0,0,0,0,0,0,0,0,0,0,0],
  [0.1,0.1,0,-0.1,0,0,0,0,0,0,0,0,0,0,0,0,0,0,-0.05,-0.1,-0.1,-0.15,0,0,0]];
const e400_dt2_d = [[0,0.1,0.2,0,0,0],[0,0.05,0.1,0,0,0],[0,0,0,0,0,0],[-0.1,-0.1,-0.1,0,0,0]];

// ---------- Epoch 550 ----------
const e550_t0 = [
  [2,-2,-6,-6.3,-5,-4.2,-3.5,-2.7,-1.5,0.5,3,5.5,7.2,7.7,7.6,6.8,5.5,4,3,-3,-8.5,-8,-6.5,-3,-2.3],
  [2,-2,-5.6,-6,-4,-3,-2.5,-1.7,-0.5,1.3,3.5,5.5,6.8,7.2,7,6.5,5.3,4,3,-3,-8.5,-8.3,-6,-2.5,-2],
  [2,-2,-5,-5.3,-3,-2,-1.5,-0.7,0.5,2,3.7,5.2,6.3,6.7,6.6,6.2,5.2,4,3,-3,-8.7,-8.5,-5.5,-2,-1.5],
  [2,-2,-4.5,-4.7,-2.5,-1.2,-0.5,0.3,1.2,2.4,3.8,5,5.8,6.1,6.1,5.7,5,3.8,3,-3,-9.3,-9,-5.5,-2,-1.2]];
const e550_t0_d = [[-3,-8.3,-8,-6.5,-3,-2.3],[-3,-8.5,-8,-6,-2.5,-2],[-3,-8.7,-8.5,-5.5,-2,-1.5],[-3,-9.3,-9,-5.5,-1.8,-1]];
const e550_t1 = [
  [0.5,3.1,2.5,1,-3,-4,-4.8,-5.5,-6.2,-6.5,-6,-4.5,-2.5,0,2.5,5,6.3,7.5,8.5,10.2,5.5,2,-1.8,-2.8,-3],
  [0.5,3.1,2.5,1,-2.8,-3.5,-4,-4.5,-5,-5.3,-5,-4,-2.2,0,2.2,4.3,5.5,6.5,7.8,9.3,4.5,2,-1.8,-2.5,-2.5],
  [0.5,3.1,2.5,1,-2.4,-2.8,-3.2,-3.5,-3.8,-3.8,-3.6,-2.8,-1.5,0,1.5,2.7,3.3,4.3,6.5,8.8,4,2,-2,-2.2,-2.2],
  [0.5,3.1,2.5,1,-2.2,-2.5,-2.8,-3,-3.3,-3.4,-3.2,-2.5,-1.5,-0.3,1,2.3,3.3,5.5,6.8,8.2,3.5,1.5,-2,-2,-1.8]];
const e550_t1_d = [[10.2,6,3,-1.8,-2.8,-3],[9.3,5,2.5,-1.8,-2.5,-2.5],[8.8,4.5,2,-2,-2.3,-2.2],[8.2,4,1.5,-2,-2,-1.8]];
const e550_t2 = [
  [3.3,6,3.5,0,-1.8,0,1.8,3,3.3,3,2,0.5,-1,-2.3,-3.2,-3.5,-3.2,-2.3,-0.8,3,-0.5,-2.5,-5.5,-2,-1],
  [3.3,6,3.5,0,-1.9,-0.2,1.5,2.6,3,2.7,1.8,0.5,-0.8,-2,-2.8,-3,-2.8,-2,-0.6,3.3,-0.3,-2.5,-5.5,-1.8,-0.7],
  [3.3,6,3.5,0,-2.2,-0.3,1.2,2.2,2.5,2.4,1.6,0.4,-0.7,-1.7,-2.3,-2.5,-2.3,-1.5,-0.2,3.6,0,-2.5,-5.5,-1.7,-0.8],
  [3.3,6,3.5,0,-1.5,-0.2,1,1.8,2,2,1.4,0.4,-0.6,-1.5,-2.1,-2.3,-2.1,-1.3,0.2,3.2,0,-2.5,-6,-2,-1]];
const e550_t2_d = [[3,-0.5,-2.5,-5.5,-2,-1],[3.3,-0.3,-2.5,-5.5,-1.8,-0.7],[3.6,0,-2.5,-5.5,-1.7,-0.8],[3.2,0,-2.5,-6,-1.7,-0.8]];
const e550_st0 = [
  [-0.6,-0.2,1.8,3.5,0.5,0.8,1.1,1.2,1.2,1.2,1.3,1.6,2,2.4,2.7,2.8,2.7,2.6,2.6,5.7,3.3,4,0.5,0.3,0.3],
  [-0.6,-0.2,0.6,1.1,0.3,0.5,0.6,0.6,0.5,0.4,0.4,0.5,0.7,0.9,1.1,1.2,1.2,0.7,1.5,2.5,1.2,1.6,-0.2,0,0.2],
  [-0.6,-0.2,-0.8,-1.2,-0.2,0.1,0.2,0.1,-0.1,-0.3,-0.5,-0.6,-0.7,-0.7,-0.7,-0.8,-0.9,-1.2,-0.8,-1,-1.2,-1.3,0,0,0],
  [-0.6,-0.2,-3.7,-3.8,-0.4,-0.6,-0.7,-0.9,-1.1,-1.4,-1.6,-1.8,-1.9,-2,-2.2,-2.4,-2.6,-2.7,-3,-4.9,-3.5,-2.9,-1,-0.5,-0.3]];
const e550_st0_d = [[5.7,3,1,0.5,0.3,0.3],[2.5,1,0.5,0,0,0.2],[-1,-1.3,-0.8,0,0,0],[-4.9,-4,-3,-0.8,-0.5,-0.3]];
const e550_st1 = [
  [-1,0.1,-2.7,-0.5,1.1,1.2,1.4,1.5,1.5,1.6,1.8,2.1,2.5,2.8,2.9,2.7,2.2,0.7,-1.5,-3.5,-3.9,-1.5,0.8,0.2,0.2],
  [-1,0.1,-0.7,-0.3,0.5,0.7,0.8,0.8,0.8,0.8,0.8,0.9,1,1,1,0.9,0.8,0.3,-0.5,-1.3,-2.1,-0.8,0.3,-0.1,-0.2],
  [-1,0.1,1.3,0.3,-0.3,0,0.2,0,-0.2,-0.3,-0.4,-0.5,-0.6,-0.7,-0.8,-1,-1.3,-1.8,-0.3,1,0.3,0.3,-0.3,-0.5,-0.5],
  [-1,0.1,2.3,1.5,-0.6,-0.8,-1,-1.2,-1.3,-1.5,-1.7,-1.9,-2.1,-2.3,-2.5,-2.7,-3,-1.5,1,3.1,2.3,1.5,0,-0.8,-0.7]];
const e550_st1_d = [[-3.5,-2.5,-1,0.5,0.2,0.2],[-1.3,-0.6,-0.3,0.3,0,-0.2],[1,1.5,1,0,-0.5,-0.5],[3.1,3.7,2.5,0.3,-0.5,-0.7]];
const e550_st2 = [
  [-0.2,0.3,1.5,2.8,0.8,0.6,0.4,0.3,0.2,0.2,0.2,0.1,0.1,0,0,-0.1,-0.3,-1.3,-2.6,-2.3,0.5,2.2,0.8,-0.2,-0.3],
  [-0.2,0.3,0.8,1,0.6,0.4,0.3,0.2,0.2,0.2,0.1,0.1,0.1,0,0,-0.1,-0.3,-0.7,-1.3,-1.2,0.3,0.9,0.2,-0.2,-0.3],
  [-0.2,0.3,-0.1,-0.8,0,0.2,0.1,0,0,0,0,0,-0.1,-0.1,-0.1,-0.2,-0.3,-0.1,0.6,0,-0.5,-0.8,-0.3,-0.2,-0.3],
  [-0.2,0.3,-1,-2.2,-0.3,0.1,0.1,0,-0.1,-0.1,-0.1,-0.1,-0.1,-0.1,-0.2,-0.2,-0.3,1.3,2.9,1.8,-1,-2.2,-0.3,-0.3,-0.3]];
const e550_st2_d = [[-2.3,0.5,2,0.8,-0.2,-0.3],[-1.2,0.3,0.8,0.2,-0.2,-0.3],[0,-0.5,-0.8,-0.3,-0.2,-0.3],[1.8,-1,-2,-0.3,-0.3,-0.3]];
const e550_dt0 = [
  [-0.3,0.2,0,0.2,-0.2,0.4,0.2,0.1,0,0,-0.1,-0.1,-0.1,-0.1,-0.1,-0.1,-0.2,-0.2,0.1,-0.1,3.7,4,3,0.3,0.1],
  [-0.3,0.2,0.1,0.1,-0.1,0.3,0.2,0.1,0,0,0,0,0,0,0,0,-0.1,-0.1,0,-0.1,3.5,3.8,3,0.3,0.1],
  [-0.3,0.2,0.2,-0.1,-0.2,0.1,0.2,0.2,0.1,0,0,0,0,0,0,0,0,0,0,-0.3,3.4,3.6,3,0.2,0.1],
  [-0.3,0.2,-0.4,-0.2,-0.1,0.2,0.3,0.2,0.1,0.1,0.1,0.1,0.2,0.2,0.2,0.2,0.3,0.1,0,-0.5,3.3,3.5,3,0.2,0.1]];
const e550_dt0_d = [[-0.1,-3.3,-3.4,-3,-0.3,0.1],[-0.1,-3.4,-3.3,-3,-0.3,0.1],[-0.3,-3.4,-3.4,-2.8,-0.3,0.1],[-0.5,-3.7,-3.5,-2.5,-0.2,0.1]];
const e550_dt1 = [
  [-0.15,-0.05,0.1,0,0.1,0.05,0,0,0,0,0,0,0,0,0,0,0,0.2,0.2,0.1,-0.6,0.3,0.1,0,0],
  [-0.15,-0.05,0.1,0,0.1,0.05,0,0,0,0,0,0,0,0,0,0,0,0.1,0.1,0.05,-0.3,0.2,0.1,0,0],
  [-0.15,-0.05,0.05,0,0.05,0,0,0,0,0,0,0,0,0,0,0,0,0,-0.1,-0.1,0.3,0.1,0,0,0],
  [-0.15,-0.05,0.15,-0.05,0,0,0,0,0,0,0,0,0,0,0,0,0,0.3,0.2,0.2,0.6,-0.2,0.1,0,0]];
const e550_dt1_d = [[0.1,0.4,-0.2,0,0,0],[0.05,0.2,-0.1,0,0,0],[-0.1,0.1,0,0,0,0],[0.2,-0.3,0.3,0.1,0,0]];
const e550_dt2 = [
  [0.1,0.05,0.1,0.05,0,0,0,0,0,0,0,0,0,0,0,0,0,0,0,0,0.05,0.25,0.05,0,0],
  [0.1,0.05,0.05,0.05,0,0,0,0,0,0,0,0,0,0,0,0,0,0,0,0,0,0.15,0,0,0],
  [0.1,0.05,0.05,0,0,0,0,0,0,0,0,0,0,0,0,0,0,0,0,0,0,0,0,0,0],
  [0.1,0.05,0,-0.1,0,0,0,0,0,0,0,0,0,0,0,0,0,0,-0.05,-0.1,-0.15,-0.2,0,0,0]];
const e550_dt2_d = [[0,0.05,0.1,0,0,0],[0,0,0.05,0,0,0],[0,0,0,0,0,0],[-0.1,-0.1,-0.15,0,0,0]];

// ---------- Epoch 729 ----------
const e729_t0 = [
  [2.3,-2,-5.7,-5.8,-4.3,-3.5,-2.5,-1.5,-0.5,1,2.8,4.5,6,6.7,6.7,6,5,4,3,-3,-9,-8.5,-6,-2.5,-1.5],
  [2.3,-2,-5.3,-5.5,-3.7,-3,-2,-1,0,1.5,3,4.6,5.8,6.3,6.3,5.8,5,4,3,-3,-9,-8.5,-6,-2.3,-1.5],
  [2.3,-2,-4.8,-5.3,-3,-2,-1.2,-0.3,0.7,2,3.3,4.6,5.5,6,6,5.6,4.8,3.8,3,-3,-9,-8.7,-6,-2.2,-1.3],
  [2.3,-2,-4.4,-4.4,-2.5,-1,0,0.8,1.8,2.8,3.8,4.7,5.4,5.7,5.7,5.3,4.6,3.6,2.8,-3,-9.3,-9.2,-6,-2,-1.2]];
const e729_t0_d = [[-3,-9,-8.5,-6,-2.5,-1.5],[-3,-9,-8.5,-6,-2.3,-1.5],[-3,-9,-8.7,-6,-2.2,-1.3],[-3,-9.3,-9.2,-6,-2,-1.2]];
const e729_t1 = [
  [0.5,2.8,2.2,0.8,-3.3,-4,-4.5,-5,-5.3,-5.3,-4.8,-3.5,-1.8,0,2,4,5.3,6.5,8,10,4.5,1.5,-2.5,-2.6,-2.8],
  [0.5,2.8,2.2,0.8,-3,-3.5,-3.8,-4.1,-4.4,-4.4,-4,-3,-1.5,0,1.8,3.5,4.5,5.8,7.5,9,4,1.5,-2.3,-2.4,-2.5],
  [0.5,2.8,2.2,0.8,-2.7,-3,-3.2,-3.4,-3.6,-3.6,-3.3,-2.5,-1.2,0,1.5,2.8,3.3,4,6.5,8.5,3.5,1.5,-2.3,-2.3,-2.2],
  [0.5,2.8,2.2,0.8,-2.6,-2.8,-2.9,-3,-3.1,-3.1,-2.8,-2,-1,0,1.3,2.5,3.5,5.5,6.8,8.2,3.5,1.5,-2.5,-2.3,-2]];
const e729_t1_d = [[10,5.5,2,-2.5,-2.6,-2.8],[9,5,2,-2.3,-2.4,-2.5],[8.5,4.5,2,-2.3,-2.3,-2.2],[8.2,4,1.5,-2.5,-2.3,-1.8]];
const e729_t2 = [
  [3.2,6,4,0.5,-1.3,-0.2,1.3,2.5,2.9,2.7,1.8,0.5,-0.8,-2,-2.8,-3.3,-3.2,-2.5,-1,2.5,-0.3,-3,-6,-1.5,-0.5],
  [3.2,6,4,0.5,-1.4,-0.3,1.1,2.2,2.6,2.4,1.6,0.5,-0.7,-1.8,-2.5,-2.9,-2.8,-2.2,-0.8,2.8,-0.2,-3,-6,-1.3,-0.5],
  [3.2,6,4,0.5,-1.8,-0.5,0.9,1.9,2.2,2.1,1.4,0.3,-0.7,-1.6,-2.2,-2.5,-2.4,-1.8,-0.5,3.1,0,-3,-5.8,-1.5,-0.8],
  [3.2,6,4,0.5,-1,-0.3,0.8,1.5,1.8,1.7,1.2,0.3,-0.6,-1.4,-2,-2.2,-2.2,-1.6,-0.3,2.8,-0.2,-3,-6,-1.5,-1]];
const e729_t2_d = [[2.5,-0.3,-3,-6,-1.5,-0.5],[2.8,-0.2,-3,-6,-1.3,-0.5],[3.1,0,-3,-5.8,-1.3,-0.8],[2.8,0,-3,-6,-1,-1.5]];
const e729_st0 = [
  [0.2,0.2,-2.8,-3.6,-0.1,-0.2,-0.3,-0.4,-0.4,-0.4,-0.5,-0.6,-0.7,-0.8,-0.9,-1,-1.1,-1.6,-2.5,-6,-4.2,-4.5,-0.7,-0.2,-0.1],
  [0.2,0.2,-0.5,-1.1,0,0,-0.1,-0.2,-0.2,-0.2,-0.2,-0.3,-0.3,-0.4,-0.4,-0.5,-0.6,-0.8,-1,-2.5,-1.5,-1,-0.2,-0.2,-0.1],
  [0.2,0.2,1.4,1.2,0.2,0.1,0,0.05,0.1,0.15,0.2,0.25,0.3,0.3,0.3,0.3,0.3,0.4,0.4,1,0.8,0.8,0.3,0,0],
  [0.2,0.2,4.1,4.1,0.3,0.3,0.35,0.4,0.5,0.6,0.7,0.75,0.8,0.8,0.8,0.85,0.9,1.2,2,5.4,4.5,3.3,1,0,0]];
const e729_st0_d = [[-6,-4,-3.5,-0.5,-0.2,-0.1],[-2.5,-1.5,-1,-0.3,-0.2,-0.1],[1,1.5,1.7,0.5,0,0],[5.4,5,4.5,1,0,0]];
const e729_st1 = [
  [-1,0,-1.9,0,0.9,1.1,1.3,1.4,1.4,1.5,1.7,2,2.3,2.7,3,3.1,2.9,2.2,0.5,-1,-2.4,-0.8,0.5,0,0.2],
  [-1,0,-0.3,-0.2,0.4,0.6,0.7,0.7,0.7,0.7,0.8,0.9,1,1.1,1.1,1.1,1,0.6,0.3,-0.5,-1.5,-0.5,0.2,-0.2,-0.3],
  [-1,0,0.6,0.2,0.1,0.3,0.4,0.3,0.1,0,-0.2,-0.3,-0.5,-0.6,-0.8,-1,-1.2,-1.6,-0.6,0.5,0.2,0,0,-0.5,-0.5],
  [-1,0,0.9,0.3,-0.6,-0.8,-0.8,-1,-1.2,-1.4,-1.6,-1.8,-2,-2.1,-2.3,-2.6,-3,-2,-0.3,1.1,1.5,0.3,-0.3,-0.8,-0.7]];
const e729_st1_d = [[-1,-1.5,-0.5,0.3,0,0.2],[-0.5,-0.8,-0.3,0.1,-0.2,-0.3],[0.5,0.5,0.2,0,-0.5,-0.5],[1.1,2,1,0,-0.5,-0.7]];
const e729_st2 = [
  [-0.2,0.2,1.3,2.5,0.8,0.5,0.3,0.2,0.2,0.2,0.2,0.2,0.1,0.1,0,-0.1,-0.3,-1.2,-2.4,-2.4,0.3,2,0.8,-0.2,-0.3],
  [-0.2,0.2,0.7,0.9,0.5,0.4,0.3,0.2,0.2,0.2,0.1,0.1,0.1,0,0,-0.1,-0.3,-0.7,-1.2,-1.2,0.2,0.8,0.3,-0.2,-0.3],
  [-0.2,0.2,-0.1,-0.8,0,0.2,0.1,0,0,0,0,0,-0.1,-0.1,-0.1,-0.2,-0.3,0,0.5,0,-0.5,-0.8,-0.3,-0.2,-0.3],
  [-0.2,0.2,-1,-2,-0.3,0.1,0.1,0,-0.1,-0.1,-0.1,-0.1,-0.1,-0.1,-0.2,-0.2,-0.3,1.2,2.8,2.2,-0.5,-2,-0.2,-0.3,-0.3]];
const e729_st2_d = [[-2.4,0.3,1.8,0.8,-0.2,-0.3],[-1.2,0.2,0.8,0.3,-0.2,-0.3],[0,-0.5,-0.8,-0.3,-0.2,-0.3],[2.2,-0.5,-1.8,-0.2,-0.3,-0.3]];
const e729_dt0 = [
  [-0.3,0.15,0,0.2,-0.2,0.4,0.2,0.1,0,-0.05,-0.1,-0.1,-0.1,-0.1,-0.1,-0.1,-0.1,-0.1,0.1,-0.1,3.7,4,3,0.2,0],
  [-0.3,0.15,0.1,0.1,-0.1,0.3,0.2,0.1,0,0,0,0,0,0,0,0,0,-0.05,0,-0.1,3.6,3.8,3,0.2,0],
  [-0.3,0.15,0.15,-0.1,-0.2,0.1,0.2,0.2,0.1,0.05,0.05,0.05,0.05,0.05,0.05,0.05,0.05,0,0,-0.3,3.5,3.7,3,0.2,0],
  [-0.3,0.15,-0.35,-0.1,-0.1,0.2,0.3,0.25,0.1,0.1,0.1,0.1,0.15,0.15,0.2,0.2,0.2,0.1,0,-0.5,3.4,3.5,2.9,0.2,0]];
const e729_dt0_d = [[-0.1,-3.4,-3.5,-3,-0.3,0],[-0.1,-3.5,-3.4,-2.9,-0.3,0],[-0.3,-3.5,-3.5,-2.8,-0.3,0],[-0.5,-3.7,-3.5,-2.6,-0.2,0]];
const e729_dt1 = [
  [-0.15,-0.05,0.1,-0.15,0.1,0.05,0,0,0,0,0,0,0,0,0,0,0,0.1,0.2,0.1,-0.6,0.3,0.1,0,0],
  [-0.15,-0.05,0.1,-0.1,0.1,0.05,0,0,0,0,0,0,0,0,0,0,0,0.05,0.1,0.05,-0.3,0.2,0.05,0,0],
  [-0.15,-0.05,0.05,-0.05,0.05,0,0,0,0,0,0,0,0,0,0,0,0,0,-0.1,-0.1,0.3,0.1,0,0,0],
  [-0.15,-0.05,0.15,-0.1,-0.1,0.05,0,0,0,0,0,0,0,0,0,0,0,0.3,0.2,0.2,0.6,0.3,0.2,0,0]];
const e729_dt1_d = [[0.1,0.4,-0.2,0,0,0],[0.05,0.2,-0.1,0,0,0],[-0.1,0.1,0,0,0,0],[0.2,-0.2,-0.2,0.1,0,0]];
const e729_dt2 = [
  [0.05,0.05,0.1,0.05,0,0,0,0,0,0,0,0,0,0,0,0,0,0,0,0,0.05,0.25,0.05,0,0],
  [0.05,0.05,0.05,0.05,0,0,0,0,0,0,0,0,0,0,0,0,0,0,0,0,0,0.15,0,0,0],
  [0.05,0.05,0.05,0,0,0,0,0,0,0,0,0,0,0,0,0,0,0,0,0,0,0,0,0,0],
  [0.05,0.05,0,-0.1,0,0,0,0,0,0,0,0,0,0,0,0,0,0,-0.05,-0.1,-0.15,-0.2,0,0,0]];
const e729_dt2_d = [[0,0.05,0.1,0,0,0],[0,0,0.05,0,0,0],[0,0,0,0,0,0],[-0.1,-0.1,-0.15,0,0,0]];

const DASH_START = 19;

const epochs = [
  { name: epochNames[0], titles: titles_e50, ticks: yTicks_e50, dec: [0, 1, 0],
    panels: [[e50_t0, e50_t0_d], [e50_t1, e50_t1_d], [e50_t2, e50_t2_d], [e50_st0, e50_st0_d], [e50_st1, e50_st1_d], [e50_st2, e50_st2_d], [e50_dt0, e50_dt0_d], [e50_dt1, e50_dt1_d], [e50_dt2, e50_dt2_d]] },
  { name: epochNames[1], titles: titles_e150, ticks: yTicks_e150, dec: [0, 0, 0],
    panels: [[e150_t0, e150_t0_d], [e150_t1, e150_t1_d], [e150_t2, e150_t2_d], [e150_st0, e150_st0_d], [e150_st1, e150_st1_d], [e150_st2, e150_st2_d], [e150_dt0, e150_dt0_d], [e150_dt1, e150_dt1_d], [e150_dt2, e150_dt2_d]] },
  { name: epochNames[2], titles: titles_e250, ticks: yTicks_e250, dec: [0, 1, 0],
    panels: [[e250_t0, e250_t0_d], [e250_t1, e250_t1_d], [e250_t2, e250_t2_d], [e250_st0, e250_st0_d], [e250_st1, e250_st1_d], [e250_st2, e250_st2_d], [e250_dt0, e250_dt0_d], [e250_dt1, e250_dt1_d], [e250_dt2, e250_dt2_d]] },
  { name: epochNames[3], titles: titles_e400, ticks: yTicks_e400, dec: [0, 0, 0],
    panels: [[e400_t0, e400_t0_d], [e400_t1, e400_t1_d], [e400_t2, e400_t2_d], [e400_st0, e400_st0_d], [e400_st1, e400_st1_d], [e400_st2, e400_st2_d], [e400_dt0, e400_dt0_d], [e400_dt1, e400_dt1_d], [e400_dt2, e400_dt2_d]] },
  { name: epochNames[4], titles: titles_e550, ticks: yTicks_e550, dec: [0, 0, 0],
    panels: [[e550_t0, e550_t0_d], [e550_t1, e550_t1_d], [e550_t2, e550_t2_d], [e550_st0, e550_st0_d], [e550_st1, e550_st1_d], [e550_st2, e550_st2_d], [e550_dt0, e550_dt0_d], [e550_dt1, e550_dt1_d], [e550_dt2, e550_dt2_d]] },
  { name: epochNames[5], titles: titles_e729, ticks: yTicks_e729, dec: [0, 0, 0],
    panels: [[e729_t0, e729_t0_d], [e729_t1, e729_t1_d], [e729_t2, e729_t2_d], [e729_st0, e729_st0_d], [e729_st1, e729_st1_d], [e729_st2, e729_st2_d], [e729_dt0, e729_dt0_d], [e729_dt1, e729_dt1_d], [e729_dt2, e729_dt2_d]] }
];

// ---- layout ----
const blockTop = [0, 436, 874];
const colLeft = [[51, 218, 388], [578, 744, 911]];
const panelW = 159, panelH = 103;
const rowTop = [46, 176, 306];
const epochTitleX = [290, 815];

const tickFont = 'DejaVu Sans';
const minus = s => s.replace('-', '\u2212');

// shared y-range across a row, with 5% padding like matplotlib autoscale
function rowRange(list) {
  let lo = Infinity, hi = -Infinity;
  list.forEach(([solid, dash]) => {
    solid.concat(dash).forEach(a => a.forEach(v => { if (v < lo) lo = v; if (v > hi) hi = v; }));
  });
  const pad = (hi - lo) * 0.05;
  return [lo - pad, hi + pad];
}

const grids = [], xAxes = [], yAxes = [], series = [], graphics = [];
let gi = 0;

epochs.forEach((ep, e) => {
  const bx = e % 2, by = Math.floor(e / 2);
  const top0 = blockTop[by];
  graphics.push({ type: 'text', x: epochTitleX[bx], y: top0 + 15, silent: true,
    style: { text: ep.name, font: '20px "Liberation Sans", Arial, sans-serif', fill: '#000', align: 'center', verticalAlign: 'middle', textAlign: 'center', textVerticalAlign: 'middle' } });

  for (let r = 0; r < 3; r++) {
    const rowPanels = ep.panels.slice(r * 3, r * 3 + 3);
    const [ymin, ymax] = rowRange(rowPanels);
    const ticks = ep.ticks[r].filter(v => v >= ymin && v <= ymax);
    const dec = ep.dec[r];
    const top = top0 + rowTop[r];

    if (bx === 0) {
      graphics.push({ type: 'text', x: 16, y: top + panelH / 2, rotation: Math.PI / 2, silent: true,
        style: { text: rowNames[r], font: '20px "Liberation Sans", Arial, sans-serif', fill: '#000', align: 'center', verticalAlign: 'middle', textAlign: 'center', textVerticalAlign: 'middle' } });
    }

    for (let c = 0; c < 3; c++) {
      const left = colLeft[bx][c];
      const [solid, dash] = rowPanels[c];
      grids.push({ left: left, top: top, width: panelW, height: panelH, show: true, borderColor: '#8a8a8a', borderWidth: 1, containLabel: false });
      graphics.push({ type: 'text', x: left + panelW / 2, y: top - 6, silent: true,
        style: { text: ep.titles[r * 3 + c], font: '8px "DejaVu Sans", sans-serif', fill: '#222', align: 'center', verticalAlign: 'middle', textAlign: 'center', textVerticalAlign: 'middle' } });

      xAxes.push({ type: 'value', gridIndex: gi, min: -1.2, max: 25.2, position: 'bottom',
        axisLine: { show: false, onZero: false }, splitLine: { show: false },
        axisTick: { show: true, length: 3, lineStyle: { color: '#666', width: 0.8 }, customValues: xTicks },
        axisLabel: { show: true, fontSize: 6.5, color: '#444', margin: 3, fontFamily: tickFont, customValues: xTicks } });
      yAxes.push({ type: 'value', gridIndex: gi, min: ymin, max: ymax, position: 'left',
        axisLine: { show: false, onZero: false }, splitLine: { show: false },
        axisTick: { show: true, length: 3, lineStyle: { color: '#666', width: 0.8 }, customValues: ticks },
        axisLabel: { show: c === 0, fontSize: 6.5, color: '#444', margin: 3, fontFamily: tickFont, customValues: ticks,
          formatter: v => minus(Number(v).toFixed(dec)) } });

      // event rules
      series.push({ type: 'line', xAxisIndex: gi, yAxisIndex: gi, data: [], silent: true, z: 1, animation: false,
        markLine: { silent: true, symbol: ['none', 'none'], label: { show: false }, animation: false,
          lineStyle: { color: '#9a9a9a', width: 1.3, type: 'solid' },
          data: eventTimes.map(t => ({ xAxis: t })) } });
      // solid condition traces
      solid.forEach((vals, k) => {
        series.push({ type: 'line', xAxisIndex: gi, yAxisIndex: gi, z: 2, silent: true, animation: false,
          symbol: 'none', data: vals.map((v, i) => [i, v]),
          lineStyle: { color: condColors[k], width: 2.3, cap: 'round', join: 'round' } });
      });
      // dashed alternative-choice traces
      dash.forEach((vals, k) => {
        series.push({ type: 'line', xAxisIndex: gi, yAxisIndex: gi, z: 3, silent: true, animation: false,
          symbol: 'none', data: vals.map((v, j) => [DASH_START + j, v]),
          lineStyle: { color: condColors[k], width: 2.3, type: [6, 3] } });
      });
      gi++;
    }
  }
});

const chart = echarts.init(document.getElementById('chart'), null, { renderer: 'canvas' });
chart.setOption({
  animation: false,
  backgroundColor: '#fff',
  grid: grids,
  xAxis: xAxes,
  yAxis: yAxes,
  series: series,
  graphic: { elements: graphics }
});
</script>
</body>
</html>
